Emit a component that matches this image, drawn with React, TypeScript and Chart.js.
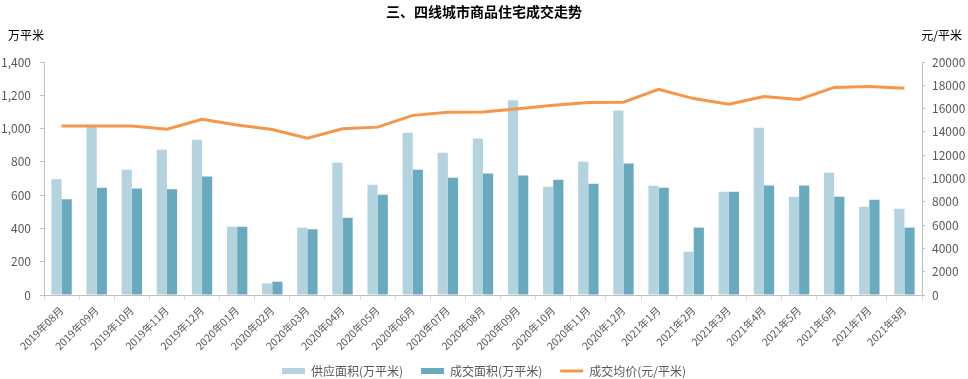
import React, { useEffect, useRef } from "react";
import { Chart, registerables } from "chart.js";

Chart.register(...registerables);

const categories = [
  "2019年08月", "2019年09月", "2019年10月", "2019年11月", "2019年12月",
  "2020年01月", "2020年02月", "2020年03月", "2020年04月", "2020年05月",
  "2020年06月", "2020年07月", "2020年08月", "2020年09月", "2020年10月",
  "2020年11月", "2020年12月", "2021年1月", "2021年2月", "2021年3月",
  "2021年4月", "2021年5月", "2021年6月", "2021年7月", "2021年8月",
];

const supplyArea = [
  695, 1012, 752, 872, 933, 410, 70, 405, 795, 662, 975, 855, 940, 1170,
  650, 800, 1108, 657, 260, 620, 1005, 590, 735, 530, 518,
];

const dealArea = [
  575, 645, 640, 635, 712, 410, 80, 395, 464, 603, 752, 705, 730, 718,
  693, 668, 790, 645, 405, 620, 658, 658, 590, 572, 405,
];

const avgPrice = [
  14500, 14500, 14500, 14230, 15080, 14600, 14200, 13450, 14270, 14410,
  15420, 15680, 15700, 15990, 16280, 16530, 16550, 17650, 16860, 16370,
  17040, 16790, 17820, 17900, 17740,
];

const leftTicks = { min: 0, max: 1400, step: 200 };
const rightTicks = { min: 0, max: 20000, step: 2000 };

const TITLE = "三、四线城市商品住宅成交走势";
const LEFT_UNIT = "万平米";
const RIGHT_UNIT = "元/平米";
const SERIES_NAMES = ["供应面积(万平米)", "成交面积(万平米)", "成交均价(元/平米)"];

const LIGHT = "#b3d3de";
const DARK = "#6aaabf";
const ORANGE = "#f79646";
const AXIS = "#bfbfbf";
const TEXT = "#595959";
const FONT = "'Noto Sans CJK SC', 'Noto Sans', sans-serif";

const unitPlugin = {
  id: "unitTitles",
  afterDraw(chart: any) {
    const { ctx, chartArea, scales } = chart;
    ctx.save();
    ctx.font = `12px ${FONT}`;
    ctx.fillStyle = "#000";
    ctx.textBaseline = "middle";
    const y = chartArea.top - 27;
    ctx.textAlign = "left";
    ctx.fillText(LEFT_UNIT, scales.y.left + 8, y);
    ctx.textAlign = "right";
    ctx.fillText(RIGHT_UNIT, scales.y1.right - 6, y);
    ctx.restore();
  },
};

export default function App() {
  const ref = useRef<HTMLCanvasElement | null>(null);

  useEffect(() => {
    if (!ref.current) return;
    Chart.defaults.font.family = FONT;
    const chart = new Chart(ref.current, {
      type: "bar",
      data: {
        labels: categories,
        datasets: [
          {
            type: "bar",
            label: SERIES_NAMES[0],
            data: supplyArea,
            backgroundColor: LIGHT,
            yAxisID: "y",
            order: 1,
            categoryPercentage: 0.58,
            barPercentage: 1,
          },
          {
            type: "bar",
            label: SERIES_NAMES[1],
            data: dealArea,
            backgroundColor: DARK,
            yAxisID: "y",
            order: 1,
            categoryPercentage: 0.58,
            barPercentage: 1,
          },
          {
            type: "line",
            label: SERIES_NAMES[2],
            data: avgPrice,
            borderColor: ORANGE,
            backgroundColor: ORANGE,
            borderWidth: 3,
            pointRadius: 0,
            tension: 0,
            yAxisID: "y1",
            order: 0,
          },
        ] as any,
      },
      options: {
        responsive: false,
        animation: false,
        layout: { padding: 0 },
        plugins: {
          title: {
            display: true,
            text: TITLE,
            color: "#000",
            font: { size: 14, weight: "bold", family: FONT },
            padding: { top: 3.6, bottom: 41.6 },
          },
          legend: {
            display: true,
            position: "bottom",
            labels: {
              usePointStyle: true,
              pointStyleWidth: 23,
              boxHeight: 6,
              padding: 18,
              color: TEXT,
              font: { size: 12, family: FONT },
              sort: (a: any, b: any) => a.datasetIndex - b.datasetIndex,
              generateLabels: (c: any) => {
                const items = (Chart.defaults.plugins.legend.labels as any).generateLabels(c);
                items.forEach((it: any) => {
                  if (it.datasetIndex === 2) {
                    it.pointStyle = "line";
                    it.lineWidth = 3;
                    it.strokeStyle = ORANGE;
                  } else {
                    it.pointStyle = "rect";
                    it.lineWidth = 0;
                  }
                });
                return items;
              },
            },
          },
          tooltip: { enabled: false },
        },
        scales: {
          x: {
            grid: {
              display: true,
              drawOnChartArea: false,
              offset: true,
              tickLength: 5,
              color: "#d9d9d9",
            },
            border: { color: AXIS },
            ticks: {
              autoSkip: false,
              maxRotation: 45,
              minRotation: 45,
              color: TEXT,
              font: { size: 10.5, family: FONT },
              padding: 4,
            },
            afterFit: (s: any) => {
              const lh = s.chart.legend ? s.chart.legend.height : 0;
              s.height = s.chart.height - 295 - lh;
              s.paddingLeft = 0;
              s.paddingRight = 0;
              s._computeLabelArea = () => undefined;
            },
          },
          y: {
            position: "left",
            min: leftTicks.min,
            max: leftTicks.max,
            grid: { display: true, drawOnChartArea: false, tickLength: 4, color: AXIS },
            border: { color: AXIS },
            ticks: {
              stepSize: leftTicks.step,
              color: TEXT,
              padding: 9,
              font: { size: 12, family: FONT },
            },
            afterFit: (s: any) => {
              s.width = 44;
            },
          },
          y1: {
            position: "right",
            min: rightTicks.min,
            max: rightTicks.max,
            grid: { display: true, drawOnChartArea: false, tickLength: 3, color: AXIS },
            border: { color: AXIS },
            ticks: {
              stepSize: rightTicks.step,
              color: TEXT,
              padding: 7,
              font: { size: 12, family: FONT },
              callback: (v: any) => String(v),
            },
            afterFit: (s: any) => {
              s.width = 46;
            },
          },
        },
      } as any,
      plugins: [unitPlugin],
    });
    return () => chart.destroy();
  }, []);

  return (
    <div
      style={{
        position: "fixed",
        left: 0,
        top: 0,
        width: 968,
        height: 379,
        overflow: "hidden",
        background: "#fff",
      }}
    >
      <canvas ref={ref} width={968} height={387} style={{ display: "block" }} />
    </div>
  );
}
